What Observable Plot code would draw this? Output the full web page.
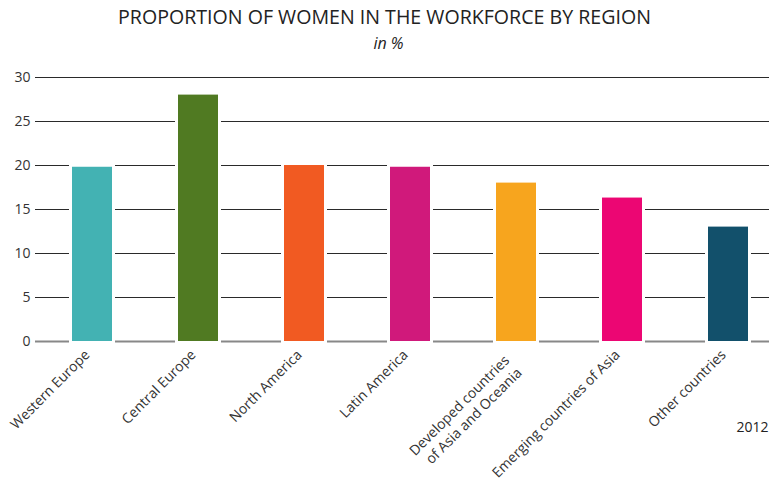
<!DOCTYPE html>
<html>
<head>
<meta charset="utf-8">
<script src="https://cdn.jsdelivr.net/npm/d3@7"></script>
<script src="https://cdn.jsdelivr.net/npm/@observablehq/plot@0.6"></script>
<style>
  body { margin: 0; background: #fff; font-family: "Open Sans", sans-serif; }
  #wrap { position: relative; width: 769px; height: 485px; overflow: hidden; }
  #title { position: absolute; top: 3px; left: 0; width: 769px; text-align: center;
           font-size: 19.6px; font-weight: 400; color: #222; }
  #subtitle { position: absolute; top: 32px; left: 4px; width: 769px; text-align: center;
              font-size: 16px; font-style: italic; color: #222; }
  #chart { position: absolute; top: 60px; left: 0; }
</style>
</head>
<body>
<div id="wrap">
  <div id="title">PROPORTION OF WOMEN IN THE WORKFORCE BY REGION</div>
  <div id="subtitle">in %</div>
  <div id="chart"></div>
</div>
<script>
// Regions along the x axis
const regions = [
  "Western Europe",
  "Central Europe",
  "North America",
  "Latin America",
  "Developed countries\nof Asia and Oceania",
  "Emerging countries of Asia",
  "Other countries"
];
// Share of women in the workforce, in %
const shares = [19.8, 28.0, 20.0, 19.8, 18.0, 16.3, 13.0];
// One colour per region
const colors = ["#43b2b3", "#507a22", "#f15a22", "#d0197b", "#f7a51e", "#ec0673", "#12506b"];
// Y axis ticks
const yTicks = [0, 5, 10, 15, 20, 25, 30];
const year = "2012";

const data = regions.map((region, i) => ({region, share: shares[i], color: colors[i]}));

// Single-line and two-line region names get slightly different offsets
const oneLine = regions.filter(r => !r.includes("\n"));
const twoLine = regions.filter(r => r.includes("\n"));

const chart = Plot.plot({
  width: 769,
  height: 425,
  marginLeft: 35,
  marginRight: 0,
  marginTop: 17,
  marginBottom: 144,
  style: { fontFamily: "Open Sans, sans-serif", color: "#333", background: "white" },
  x: { domain: regions, range: [38, 781], paddingInner: 0.623, paddingOuter: 0.3115 },
  y: { domain: [0, 30] },
  marks: [
    Plot.ruleY(yTicks.filter(d => d > 0), { stroke: "#2a2a2a", strokeWidth: 1 }),
    Plot.ruleY([0], { stroke: "#888", strokeWidth: 1.8 }),
    Plot.barY(data, {
      x: "region", y: "share", fill: d => d.color,
      stroke: "white", strokeWidth: 6, paintOrder: "stroke"
    }),
    Plot.axisY({ ticks: yTicks, tickSize: 0, tickPadding: 5, fontSize: 14, label: null }),
    Plot.axisX({ ticks: oneLine, tickSize: 0, tickPadding: 8, tickRotate: -45, fontSize: 14, dx: -5, dy: 3, label: null }),
    Plot.axisX({ ticks: twoLine, tickSize: 0, tickPadding: 8, tickRotate: -45, fontSize: 14, lineHeight: 1.25, dx: -4, dy: 14, label: null }),
    Plot.text([year], { frameAnchor: "bottom-right", dy: 90, dx: -1, textAnchor: "end", fontSize: 14, fill: "#222" })
  ]
});
document.getElementById("chart").appendChild(chart);
</script>
</body>
</html>
